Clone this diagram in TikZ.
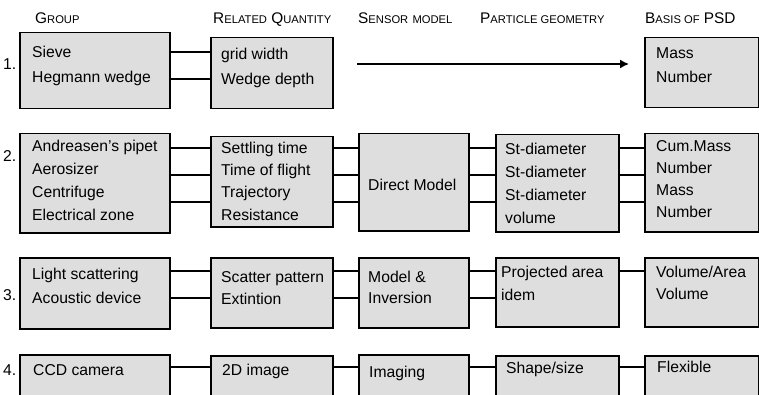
\documentclass[tikz,border=0pt]{standalone}
\usepackage{fontspec}
\setmainfont{Liberation Sans}
\usetikzlibrary{arrows.meta}
\newcommand\hcap[2]{#1{\fontsize{11.2}{12}\selectfont #2}}
\tikzset{
  blk/.style={rectangle, draw, line width=1.5pt, fill=black!13, inner sep=0pt, anchor=north west},
  txt/.style={anchor=base west, inner sep=0pt, font=\fontsize{15.7}{18}\selectfont},
  hdr/.style={anchor=base west, inner sep=0pt, font=\fontsize{15.4}{18}\selectfont},
  link/.style={line width=1.5pt},
  longarrow/.style={line width=1.5pt, -{Latex[length=9pt, width=9pt]}},
}

\begin{document}
\begin{tikzpicture}[x=1pt, y=-1pt]
  \clip (0,0) rectangle (759,395);
  % column headers
  \node[hdr] (hgroup) at (35,24) {\hcap{G}{ROUP}};
  \node[hdr] (hrel) at (213,24) {\hcap{R}{ELATED} \hcap{Q}{UANTITY}};
  \node[hdr] (hsens) at (358,24) {\hcap{S}{ENSOR}\ \hcap{}{MODEL}};
  \node[hdr] (hgeom) at (480,24) {\hcap{P}{ARTICLE GEOMETRY}};
  \node[hdr] (hpsd) at (645,24) {\hcap{B}{ASIS OF} PSD};
  % row numbers
  \node[txt] (n1) at (3,70) {1.};
  \node[txt] (n2) at (3,162) {2.};
  \node[txt] (n3) at (3,300) {3.};
  \node[txt] (n4) at (3,375) {4.};
  % boxes, row 1
  \node[blk, minimum width=150, minimum height=76] (g1) at (19,32) {};
  \node[blk, minimum width=122, minimum height=71] (r1) at (210,37) {};
  \node[blk, minimum width=114, minimum height=70] (b1) at (644,37) {};
  % row 2
  \node[blk, minimum width=150, minimum height=99] (g2) at (19,133) {};
  \node[blk, minimum width=122, minimum height=90] (r2) at (210,136) {};
  \node[blk, minimum width=110, minimum height=97] (s2) at (358,133) {};
  \node[blk, minimum width=123, minimum height=97] (p2) at (495,134) {};
  \node[blk, minimum width=114, minimum height=98] (b2) at (644,133) {};
  % row 3
  \node[blk, minimum width=150, minimum height=71] (g3) at (19,257) {};
  \node[blk, minimum width=122, minimum height=70] (r3) at (210,257) {};
  \node[blk, minimum width=110, minimum height=70] (s3) at (358,257) {};
  \node[blk, minimum width=123, minimum height=69] (p3) at (495,257) {};
  \node[blk, minimum width=114, minimum height=69] (b3) at (644,257) {};
  % row 4 (runs off the bottom)
  \node[blk, minimum width=150, minimum height=60] (g4) at (19,354) {};
  \node[blk, minimum width=122, minimum height=60] (r4) at (210,355) {};
  \node[blk, minimum width=110, minimum height=60] (s4) at (358,354) {};
  \node[blk, minimum width=123, minimum height=60] (p4) at (495,355) {};
  \node[blk, minimum width=114, minimum height=60] (b4) at (644,355) {};
  % box texts
  \foreach \t [count=\i] in {Sieve, Hegmann wedge}
    \node[txt] (g1-\i) at (32,{58+25*(\i-1)}) {\t};
  \foreach \t [count=\i] in {grid width, Wedge depth}
    \node[txt] (r1-\i) at (221,{60+25*(\i-1)}) {\t};
  \foreach \t [count=\i] in {Mass, Number}
    \node[txt] (b1-\i) at (656,{59+24*(\i-1)}) {\t};
  \foreach \t [count=\i] in {Andreasen's pipet, Aerosizer, Centrifuge, Electrical zone}
    \node[txt] (g2-\i) at (32,{152+23*(\i-1)}) {\t};
  \foreach \t [count=\i] in {Settling time, Time of flight, Trajectory, Resistance}
    \node[txt] (r2-\i) at (221,{154+22*(\i-1)}) {\t};
  \node[txt] (s2-1) at (368,191) {Direct Model};
  \foreach \t [count=\i] in {St-diameter, St-diameter, St-diameter, volume}
    \node[txt] (p2-\i) at (505,{155+22.7*(\i-1)}) {\t};
  \foreach \t [count=\i] in {Cum.Mass, Number, Mass, Number}
    \node[txt] (b2-\i) at (656,{152+22*(\i-1)}) {\t};
  \foreach \t [count=\i] in {Light scattering, Acoustic device}
    \node[txt] (g3-\i) at (32,{279+24*(\i-1)}) {\t};
  \foreach \t [count=\i] in {Scatter pattern, Extintion}
    \node[txt] (r3-\i) at (221,{282+22*(\i-1)}) {\t};
  \foreach \t [count=\i] in {Model \&, Inversion}
    \node[txt] (s3-\i) at (368,{282+21*(\i-1)}) {\t};
  \foreach \t [count=\i] in {Projected area, idem}
    \node[txt] (p3-\i) at (501,{277+23*(\i-1)}) {\t};
  \foreach \t [count=\i] in {Volume/Area, Volume}
    \node[txt] (b3-\i) at (656,{277+22*(\i-1)}) {\t};
  \node[txt] (g4-1) at (33,375) {CCD camera};
  \node[txt] (r4-1) at (222,375) {2D image};
  \node[txt] (s4-1) at (369,377) {Imaging};
  \node[txt] (p4-1) at (506,373) {Shape/size};
  \node[txt] (b4-1) at (657,372) {Flexible};
  % connectors
  \foreach \y in {52,79}
    \draw[link] (g1.east |- 0,\y) -- (r1.west |- 0,\y);
  \coordinate (a1) at (357,64);
  \draw[longarrow, shorten >=15pt] (a1) -- (b1.west |- a1);
  \foreach \y in {148,175,202} {
    \draw[link] (g2.east |- 0,\y) -- (r2.west |- 0,\y);
    \draw[link] (r2.east |- 0,\y) -- (s2.west |- 0,\y);
    \draw[link] (s2.east |- 0,\y) -- (p2.west |- 0,\y);
    \draw[link] (p2.east |- 0,\y) -- (b2.west |- 0,\y);
  }
  \foreach \y in {271,298} {
    \draw[link] (g3.east |- 0,\y) -- (r3.west |- 0,\y);
    \draw[link] (r3.east |- 0,\y) -- (s3.west |- 0,\y);
    \draw[link] (s3.east |- 0,\y) -- (p3.west |- 0,\y);
  }
  \draw[link] (p3.east |- 0,271) -- (b3.west |- 0,271);
  \draw[link] (g4.east |- 0,367) -- (r4.west |- 0,367);
  \draw[link] (r4.east |- 0,367) -- (s4.west |- 0,367);
  \draw[link] (s4.east |- 0,367) -- (p4.west |- 0,367);
  \draw[link] (p4.east |- 0,367) -- (b4.west |- 0,367);
\end{tikzpicture}
\end{document}
